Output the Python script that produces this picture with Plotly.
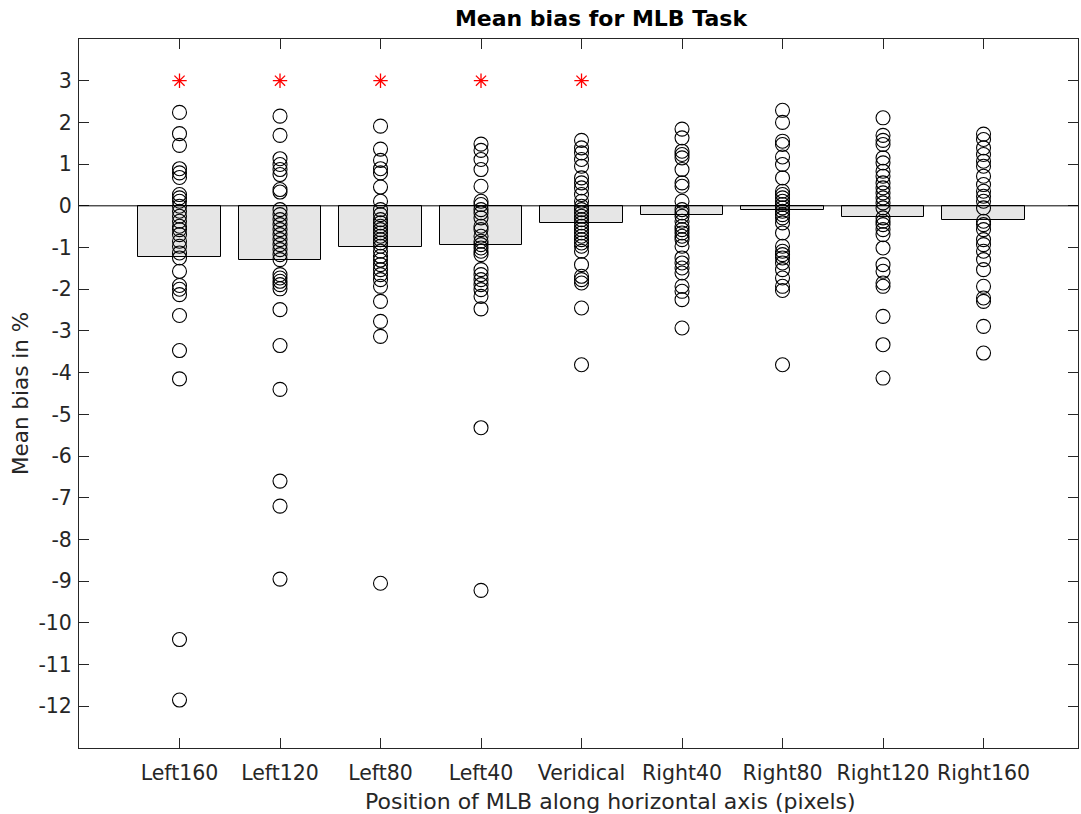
import plotly.graph_objects as go

# Conditions along the horizontal axis
conditions = ["Left160", "Left120", "Left80", "Left40", "Veridical",
              "Right40", "Right80", "Right120", "Right160"]

# Group mean bias (%) for each condition
mean_bias = [-1.23, -1.30, -0.98, -0.94, -0.42, -0.22, -0.09, -0.27, -0.35]

# Individual participant bias (%) per condition
left160 = [2.24, 1.73, 1.45, 0.89, 0.79, 0.68, 0.27, 0.19, 0.11, -0.01, -0.13,
           -0.25, -0.37, -0.49, -0.57, -0.69, -0.85, -0.97, -1.13, -1.25, -1.57,
           -1.91, -2.0, -2.13, -2.63, -3.47, -4.15, -10.4, -11.85]
left120 = [2.15, 1.69, 1.13, 0.99, 0.87, 0.75, 0.39, 0.33, -0.09, -0.21, -0.33,
           -0.45, -0.57, -0.69, -0.81, -0.93, -1.05, -1.17, -1.29, -1.65, -1.73,
           -1.81, -1.89, -1.99, -2.49, -3.35, -4.4, -6.6, -7.2, -8.95]
left80 = [1.91, 1.36, 1.09, 0.89, 0.79, 0.45, 0.11, -0.09, -0.21, -0.33, -0.41,
          -0.49, -0.57, -0.65, -0.73, -0.81, -0.89, -0.97, -1.09, -1.21, -1.30,
          -1.41, -1.53, -1.65, -1.77, -1.93, -2.29, -2.77, -3.13, -9.05]
left40 = [1.48, 1.33, 1.11, 0.87, 0.47, 0.11, 0.03, -0.09, -0.17, -0.29, -0.49,
          -0.57, -0.73, -0.85, -0.93, -1.01, -1.09, -1.17, -1.53, -1.65, -1.77,
          -1.89, -2.01, -2.17, -2.47, -5.32, -9.22]
veridical = [1.57, 1.39, 1.27, 1.11, 0.95, 0.67, 0.55, 0.43, 0.27, 0.11, -0.01,
             -0.09, -0.17, -0.25, -0.33, -0.41, -0.49, -0.57, -0.65, -0.73,
             -0.81, -0.89, -0.97, -1.09, -1.41, -1.69, -1.77, -1.85, -2.45, -3.81]
right40 = [1.84, 1.63, 1.31, 1.23, 1.15, 0.87, 0.55, 0.47, 0.11, -0.09, -0.17,
           -0.25, -0.37, -0.49, -0.57, -0.65, -0.73, -0.81, -0.97, -1.25, -1.37,
           -1.49, -1.61, -1.93, -2.05, -2.25, -2.93]
right80 = [2.29, 2.0, 1.55, 1.47, 1.17, 0.99, 0.67, 0.35, 0.27, 0.19, 0.11, 0.03,
           -0.05, -0.13, -0.21, -0.29, -0.41, -0.65, -0.97, -1.09, -1.17, -1.25,
           -1.37, -1.53, -1.73, -1.93, -2.03, -3.81]
right120 = [2.11, 1.69, 1.57, 1.47, 1.15, 1.03, 0.83, 0.71, 0.55, 0.43, 0.31,
            0.19, 0.07, -0.05, -0.29, -0.37, -0.45, -0.57, -0.69, -1.01, -1.41,
            -1.57, -1.85, -1.93, -2.65, -3.33, -4.13]
right160 = [1.72, 1.59, 1.39, 1.23, 1.07, 0.95, 0.71, 0.51, 0.35, 0.23, 0.11,
            -0.05, -0.37, -0.45, -0.57, -0.81, -0.93, -1.09, -1.29, -1.53, -1.93,
            -2.21, -2.29, -2.89, -3.53]
participants = [left160, left120, left80, left40, veridical,
                right40, right80, right120, right160]

# Conditions with a significant bias, marked at the top
significant = ["Left160", "Left120", "Left80", "Left40", "Veridical"]
star_level = 3

y_ticks = list(range(-12, 4))

positions = list(range(1, len(conditions) + 1))
pos_of = dict(zip(conditions, positions))

FONT = "DejaVu Sans"
INK = "#262626"

fig = go.Figure()

fig.add_trace(go.Bar(
    x=positions, y=mean_bias, width=0.82,
    marker=dict(color="#e6e6e6", line=dict(color="#000000", width=1)),
    showlegend=False,
))

xs, ys = [], []
for p, vals in zip(positions, participants):
    xs += [p] * len(vals)
    ys += vals
fig.add_trace(go.Scatter(
    x=xs, y=ys, mode="markers",
    marker=dict(symbol="circle-open", size=14, color="#000000",
                line=dict(width=1.1)),
    showlegend=False,
))

fig.add_trace(go.Scatter(
    x=[pos_of[c] for c in significant], y=[star_level] * len(significant),
    mode="markers",
    marker=dict(symbol="asterisk-open", size=12, color="#ff0000",
                line=dict(width=1.3, color="#ff0000")),
    showlegend=False,
))

# Bar baseline at zero
fig.add_shape(type="line", xref="paper", x0=0, x1=1, yref="y", y0=0, y1=0,
              line=dict(color="#000000", width=1))

axis_style = dict(showline=True, mirror="ticks", linecolor=INK,
                  linewidth=1, ticks="inside", ticklen=10, tickcolor=INK,
                  showgrid=False, zeroline=False,
                  tickfont=dict(family=FONT, size=20.5, color=INK))

fig.update_xaxes(range=[0, 9.94], tickvals=positions, ticktext=conditions,
                 ticklabelstandoff=6, **axis_style)
fig.update_yaxes(range=[-13, 4], tickvals=y_ticks,
                 ticktext=[str(v) for v in y_ticks],
                 ticklabelstandoff=2,
                 title=dict(text="Mean bias in %",
                            font=dict(family=FONT, size=21.5, color=INK),
                            standoff=3),
                 **axis_style)

# Horizontal axis label
fig.add_annotation(text="Position of MLB along horizontal axis (pixels)",
                   xref="paper", yref="paper", x=0.5325, y=-0.076,
                   xanchor="center", yanchor="middle", showarrow=False,
                   font=dict(family=FONT, size=22, color=INK))

fig.update_layout(
    width=1081, height=814,
    margin=dict(l=79, r=3, t=39, b=66),
    plot_bgcolor="#ffffff", paper_bgcolor="#ffffff",
    bargap=0,
    title=dict(text="<b>Mean bias for MLB Task</b>", x=0.5225, xanchor="center",
               xref="paper", y=1 - 18 / 814, yref="container", yanchor="middle",
               font=dict(family=FONT, size=22, color="#000000")),
)

fig.write_html("out.html")
